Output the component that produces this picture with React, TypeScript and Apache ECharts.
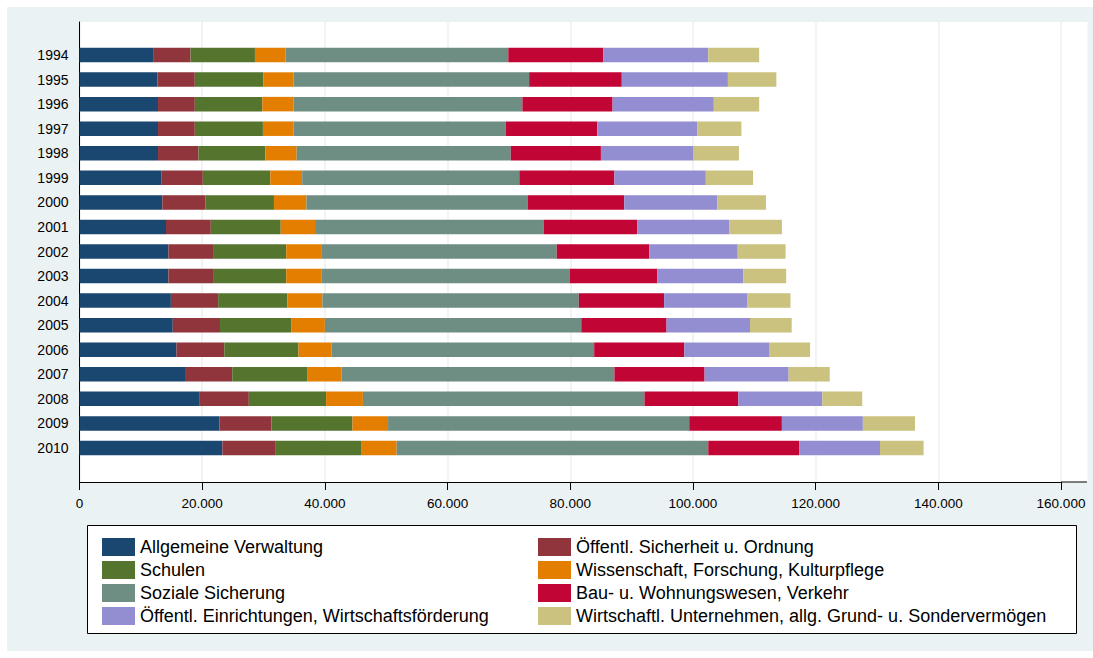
import React, { useEffect, useRef } from "react";
import * as echarts from "echarts";

const years = ["1994","1995","1996","1997","1998","1999","2000","2001","2002","2003","2004","2005","2006","2007","2008","2009","2010"];

const seriesNames = [
  "Allgemeine Verwaltung",
  "Öffentl. Sicherheit u. Ordnung",
  "Schulen",
  "Wissenschaft, Forschung, Kulturpflege",
  "Soziale Sicherung",
  "Bau- u. Wohnungswesen, Verkehr",
  "Öffentl. Einrichtungen, Wirtschaftsförderung",
  "Wirtschaftl. Unternehmen, allg. Grund- u. Sondervermögen",
];

const allgemeineVerwaltung = [12100,12700,12800,12800,12800,13400,13500,14100,14500,14500,14900,15200,15800,17200,19500,22800,23300];
const sicherheitOrdnung   = [6000,6100,6000,6000,6600,6700,7000,7300,7400,7400,7700,7700,7800,7700,8100,8500,8700];
const schulen             = [10500,11200,11000,11100,10900,11000,11200,11400,11800,11800,11300,11600,12100,12200,12600,13200,14000];
const wissenschaft        = [5000,4900,5100,5000,5100,5200,5300,5600,5700,5800,5700,5500,5400,5600,6000,5800,5700];
const sozialeSicherung    = [36300,38400,37300,34600,34900,35400,36100,37300,38400,40400,41800,41800,42800,44500,45900,49100,50800];
const bauVerkehr          = [15500,15100,14700,14900,14700,15500,15700,15200,15100,14300,13900,13900,14700,14700,15300,15100,14800];
const einrichtungen       = [17100,17300,16500,16300,15100,14900,15200,15000,14400,14000,13600,13600,13800,13700,13700,13200,13200];
const wirtschaftlUntern   = [8300,7900,7400,7200,7400,7700,7900,8600,7800,7000,7000,6800,6700,6700,6500,8500,7100];

const seriesData = [allgemeineVerwaltung, sicherheitOrdnung, schulen, wissenschaft, sozialeSicherung, bauVerkehr, einrichtungen, wirtschaftlUntern];
const colors = ["#1a476f","#90353b","#55752f","#e37e00","#6e8e84","#c10534","#938dd2","#cac27e"];

const xTicks = [0,20000,40000,60000,80000,100000,120000,140000,160000];

const FONT = "'Liberation Sans', Arial, Helvetica, sans-serif";

function fmt(v: number): string {
  return String(Math.round(v)).replace(/\B(?=(\d{3})+(?!\d))/g, ".");
}

export default function App() {
  const ref = useRef<HTMLDivElement>(null);
  useEffect(() => {
    if (!ref.current) return;
    const chart = echarts.init(ref.current, undefined, { renderer: "svg" });
    const L = 79.5;
    const W = 981.5;
    const legendText = { fontSize: 18, color: "#000", fontFamily: FONT, lineHeight: 18 };
    const option: any = {
      animation: false,
      backgroundColor: "#ffffff",
      textStyle: { fontFamily: FONT },
      graphic: [
        { type: "rect", z: -20, silent: true, shape: { x: 7, y: 7, width: 1086, height: 644 }, style: { fill: "#eaf2f3" } },
        { type: "rect", z: -19, silent: true, shape: { x: 79.5, y: 22, width: 1008, height: 460 }, style: { fill: "#ffffff" } },
        { type: "line", z: 5, silent: true, shape: { x1: 1061, y1: 482, x2: 1087, y2: 482 }, style: { stroke: "#000", lineWidth: 1 } },
        { type: "rect", z: -18, silent: true, shape: { x: 87.5, y: 525.5, width: 989, height: 108 }, style: { fill: "#ffffff", stroke: "#000", lineWidth: 1 } },
      ],
      legend: [
        {
          orient: "vertical", left: 97, top: 533, itemWidth: 33, itemHeight: 18, itemGap: 5,
          icon: "rect", selectedMode: false,
          data: [seriesNames[0], seriesNames[2], seriesNames[4], seriesNames[6]],
          textStyle: legendText,
        },
        {
          orient: "vertical", left: 533, top: 533, itemWidth: 33, itemHeight: 18, itemGap: 5,
          icon: "rect", selectedMode: false,
          data: [seriesNames[1], seriesNames[3], seriesNames[5], seriesNames[7]],
          textStyle: legendText,
        },
      ],
      grid: [
        { left: L, width: W, top: 42.72, height: 417.56, containLabel: false },
        { left: L, width: W, top: 22, height: 460, containLabel: false },
      ],
      xAxis: [
        { gridIndex: 0, type: "value", min: 0, max: 160000, show: false },
        {
          gridIndex: 1, type: "value", min: xTicks[0], max: xTicks[xTicks.length - 1], interval: 20000,
          axisLine: { show: true, lineStyle: { color: "#000", width: 1 } },
          axisTick: { show: true, length: 8, lineStyle: { color: "#000", width: 1 } },
          axisLabel: { show: true, fontSize: 13.5, color: "#000", margin: 14, fontFamily: FONT, formatter: (v: number) => fmt(v) },
          splitLine: { show: true, lineStyle: { color: "#eef1f1", width: 1.5 } },
        },
      ],
      yAxis: [
        {
          gridIndex: 0, type: "category", data: years, inverse: true,
          axisLine: { show: false }, axisTick: { show: false },
          axisLabel: { fontSize: 14, color: "#000", margin: 11, fontFamily: FONT },
        },
        {
          gridIndex: 1, type: "value", min: 0, max: 1,
          axisLine: { show: true, lineStyle: { color: "#000", width: 1 } },
          axisTick: { show: false }, axisLabel: { show: false }, splitLine: { show: false },
        },
      ],
      series: seriesNames.map((name, i) => ({
        name,
        type: "bar",
        stack: "total",
        xAxisIndex: 0,
        yAxisIndex: 0,
        barWidth: 14.5,
        itemStyle: { color: colors[i] },
        data: seriesData[i],
      })),
    };
    chart.setOption(option);
    return () => chart.dispose();
  }, []);
  return (
    <div ref={ref} style={{ position: "fixed", left: 0, top: 0, width: 1093, height: 658 }} />
  );
}
